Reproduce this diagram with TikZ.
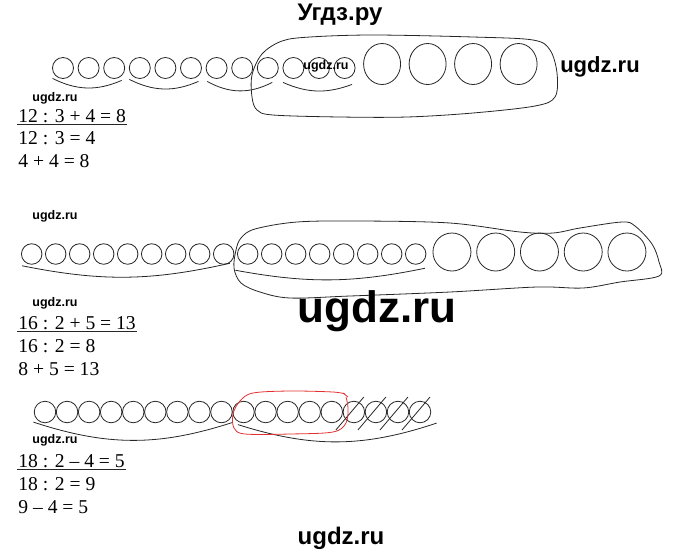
\documentclass[tikz,border=0pt]{standalone}
\usepackage{fontspec}
\setmainfont{Liberation Serif}
\newfontfamily\wmfont{Liberation Sans}
\usepackage{tikz}
\usetikzlibrary{positioning,shapes.geometric}
\definecolor{loopred}{RGB}{226,48,48}

\tikzset{wmbold/.style={font=\wmfont\bfseries\fontsize{#1}{#1}\selectfont}}

\begin{document}
\begin{tikzpicture}[x=1pt,y=-1pt,line width=0.8pt,draw=black!85]
	\tikzstyle{bead}=[circle,draw,inner sep=0pt,outer sep=0pt,minimum size=21pt]
	\tikzstyle{bigbead}=[ellipse,draw,inner sep=0pt,outer sep=0pt,minimum width=37pt,minimum height=41pt]
	\tikzstyle{eq}=[anchor=base west,inner sep=0pt,font=\fontsize{19.6}{19.6}\selectfont]
	\tikzstyle{wm}=[wmbold=12.5]
	\tikzstyle{blob}=[smooth cycle,tension=0.55]

	\useasboundingbox (0,0) rectangle (680,558);

	% 12 : 3 + 4
	\node[bead] (A1) at (63,68) {};
	\foreach \i [evaluate=\i as \p using int(\i-1)] in {2,...,12}
		\node[bead] (A\i) [right=4.6pt of A\p] {};
	\node[bigbead] (A13) [right=8.5pt of A12,yshift=4pt] {};
	\foreach \i [evaluate=\i as \p using int(\i-1)] in {14,15,16}
		\node[bigbead] (A\i) [right=8.5pt of A\p] {};

	\draw ([shift={(-3pt,-3pt)}]A1.south west) to[bend right=25] ([yshift=-5pt]A3.south east);
	\draw ([shift={(-3pt,-4pt)}]A4.south west) to[bend right=25] ([yshift=-6pt]A6.south east);
	\draw ([shift={(-2pt,-6pt)}]A7.south west) to[bend right=28] ([shift={(-3pt,-7pt)}]A9.south east);
	\draw ([shift={(-3pt,-7pt)}]A10.south west) to[bend right=22] ([yshift=-9pt]A12.south east);
	\draw plot[blob] coordinates {(252,97) (252,75) (262,54) (282,41) (310,37) (373,35) (473,37)
		(533,40) (550,50) (557,73) (555,97) (535,106) (473,113) (407,117) (340,117) (273,115) (257,110)};

	% 16 : 2 + 5
	\node[bead,minimum size=20.5pt] (B1) at (31.7,254) {};
	\foreach \i [evaluate=\i as \p using int(\i-1)] in {2,...,17}
		\node[bead,minimum size=20.5pt] (B\i) [right=3.5pt of B\p] {};
	\node[bead,minimum size=38pt] (B18) [right=7pt of B17,yshift=2pt] {};
	\foreach \i [evaluate=\i as \p using int(\i-1)] in {19,...,22}
		\node[bead,minimum size=38pt] (B\i) [right=5.75pt of B\p] {};

	\draw ([shift={(-2.5pt,-4.5pt)}]B1.south west) to[bend right=12] ([shift={(-1pt,-2pt)}]B9.south east);
	\draw ([shift={(-5pt,-9pt)}]B10.south west) to[bend right=11] ([shift={(2pt,-7pt)}]B17.south east);
	\draw plot[blob] coordinates {(236,250) (241,238) (255,229) (297,222) (360,221) (450,223) (520,232)
		(553,233) (580,228) (622,222) (635,226) (652,244) (659,262) (659,276) (620,282) (583,288)
		(537,287) (450,292) (350,296) (290,298) (260,292) (241,283) (234,268)};

	% 18 : 2 - 4
	\node[bead,minimum size=21.5pt] (C1) at (45,412) {};
	\foreach \i [evaluate=\i as \p using int(\i-1)] in {2,...,18}
		\node[bead,minimum size=21.5pt] (C\i) [right=0.56pt of C\p] {};

	\draw ([shift={(-4pt,-2.5pt)}]C1.south west) to[bend right=18] ([shift={(3pt,-3pt)}]C9.south east);
	\draw ([shift={(2pt,-5pt)}]C10.south west) to[bend right=18] ([shift={(9pt,-3.5pt)}]C18.south east);
	\foreach \k in {15,...,18}
		\draw ([shift={(-18pt,-18pt)}]C\k.center) -- ([shift={(10pt,15pt)}]C\k.center);
	\draw[loopred] plot[smooth,tension=0.55] coordinates {(345,394) (333,392) (290,391) (253,393) (240,401)
		(233,414) (234,428) (245,434) (290,434) (333,432) (346,423) (348,408) (346,397)};
	\draw[loopred] (343,393) -- (348,397);

	% sums
	\node[eq] (e1) at (18,122) {12 : 3 + 4 = 8};
	\node[eq] (e2) at (18,144) {12 : 3 = 4};
	\node[eq] (e3) at (18,167) {4 + 4 = 8};
	\node[eq] (f1) at (18,329) {16 : 2 + 5 = 13};
	\node[eq] (f2) at (18,352) {16 : 2 = 8};
	\node[eq] (f3) at (18,375) {8 + 5 = 13};
	\node[eq] (g1) at (18,467) {18 : 2 – 4 = 5};
	\node[eq] (g2) at (18,490) {18 : 2 = 9};
	\node[eq] (g3) at (18,513) {9 – 4 = 5};
	\foreach \e in {e1,f1,g1}
		\draw ([shift={(-1pt,-2.5pt)}]\e.base west) -- ([shift={(1pt,-2.5pt)}]\e.base east);

	% watermarks
	\node[wmbold=24] (t) at (340,15) {Угдз.ру};
	\node[wmbold=22] (w1) at (600,67) {ugdz.ru};
	\node[wmbold=44] (w2) at (377,311) {ugdz.ru};
	\node[wmbold=24] (w3) at (341,538) {ugdz.ru};
	\node[wm] (s1) at (55,98) {ugdz.ru};
	\node[wm] (s2) at (326,66) {ugdz.ru};
	\node[wm] (s3) at (55,216) {ugdz.ru};
	\node[wm] (s4) at (55,303) {ugdz.ru};
	\node[wm] (s5) at (55,440) {ugdz.ru};
\end{tikzpicture}
\end{document}
